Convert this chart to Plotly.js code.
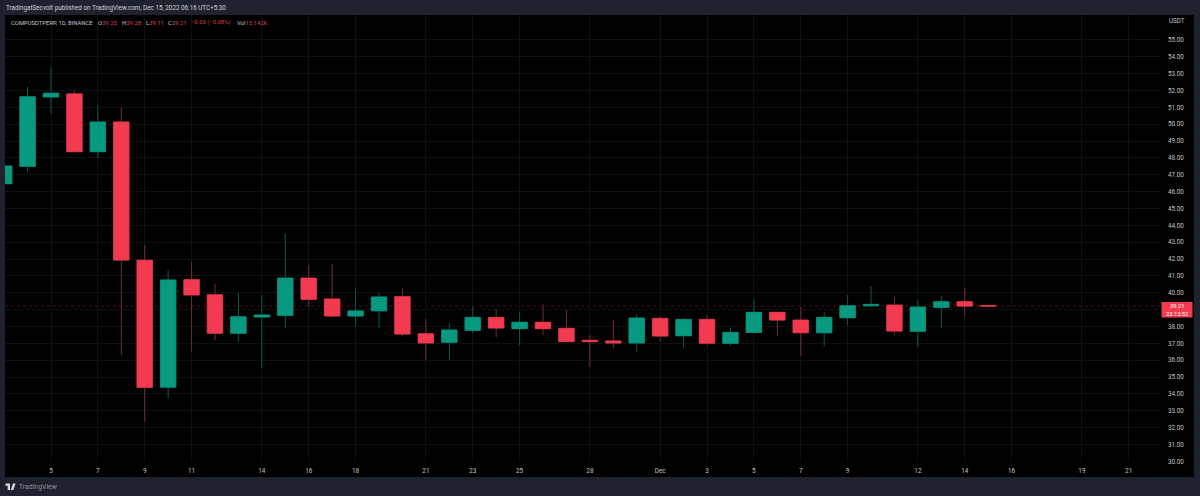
<!DOCTYPE html>
<html><head><meta charset="utf-8">
<script src="https://cdn.plot.ly/plotly-3.0.1.min.js"></script>
<style>html,body{margin:0;padding:0;background:#1e222d;overflow:hidden}#c{width:1200px;height:496px}</style>
</head><body><div id="c"></div>
<script>
const dates = ["2022-11-03","2022-11-04","2022-11-05","2022-11-06","2022-11-07","2022-11-08","2022-11-09","2022-11-10","2022-11-11","2022-11-12","2022-11-13","2022-11-14","2022-11-15","2022-11-16","2022-11-17","2022-11-18","2022-11-19","2022-11-20","2022-11-21","2022-11-22","2022-11-23","2022-11-24","2022-11-25","2022-11-26","2022-11-27","2022-11-28","2022-11-29","2022-11-30","2022-12-01","2022-12-02","2022-12-03","2022-12-04","2022-12-05","2022-12-06","2022-12-07","2022-12-08","2022-12-09","2022-12-10","2022-12-11","2022-12-12","2022-12-13","2022-12-14","2022-12-15"];
const opens = [46.47,47.50,51.62,51.80,48.37,50.13,41.93,34.40,40.78,39.88,37.60,38.56,38.66,40.87,39.63,38.62,38.93,39.77,37.57,37.06,37.77,38.54,37.87,38.25,37.89,37.18,37.14,37.02,38.48,37.45,38.42,37.00,37.65,38.84,38.38,37.63,38.52,39.23,39.27,37.71,39.13,39.47,39.25];
const closes = [47.52,51.63,51.84,48.37,50.13,41.94,34.39,40.76,39.87,37.60,38.58,38.68,40.87,39.61,38.62,38.92,39.75,37.55,37.02,37.79,38.54,37.91,38.25,37.87,37.10,37.10,37.02,38.50,37.43,38.42,37.00,37.65,38.84,38.38,37.63,38.54,39.23,39.31,37.73,39.15,39.47,39.21,39.21];
const highs = [47.60,52.23,53.38,51.99,51.14,51.00,42.83,41.35,41.84,40.52,40.00,39.87,43.49,41.65,41.71,40.26,40.00,40.26,38.44,38.19,39.17,39.02,38.88,39.33,38.98,37.49,38.38,38.74,38.62,38.50,38.68,37.93,39.61,38.84,39.17,38.84,39.87,40.40,39.73,39.57,39.81,40.26,39.28];
const lows = [46.40,47.18,50.65,48.37,47.98,36.30,32.35,33.75,36.50,37.20,37.10,35.52,37.89,39.17,38.54,37.99,37.89,37.43,36.00,36.00,37.60,37.36,36.90,37.49,37.06,35.61,36.70,36.50,37.10,36.70,36.90,36.86,37.65,37.45,36.25,36.84,38.09,39.17,37.49,36.80,37.89,38.62,39.11];
const xTicks = ["2022-11-05","2022-11-07","2022-11-09","2022-11-11","2022-11-14","2022-11-16","2022-11-18","2022-11-21","2022-11-23","2022-11-25","2022-11-28","2022-12-01","2022-12-03","2022-12-05","2022-12-07","2022-12-09","2022-12-12","2022-12-14","2022-12-16","2022-12-19","2022-12-21"];
const xLabels = ["5","7","9","11","14","16","18","21","23","25","28","Dec","3","5","7","9","12","14","16","19","21"];
const priceTicks = [30,31,32,33,34,35,36,37,38,39,40,41,42,43,44,45,46,47,48,49,50,51,52,53,54,55];
const lastPrice = 39.21;
const UP="#089981", DOWN="#f23a50", UPW="#0b5c50", DOWNW="#7a2a35", TXT="#c2c5cd", BG="#1e222d", FS=6.3, GRID="#0e1011";
const bodyHigh = opens.map((o,i)=>Math.max(o,closes[i]));
const bodyLow = opens.map((o,i)=>Math.min(o,closes[i]));
const L=5,R=1160,T=15,B=462;
const px=x=>(x-L)/(R-L), py=y=>(B-y)/(B-T);
const base={type:"candlestick",x:dates,open:opens,close:closes,whiskerwidth:0,hoverinfo:"skip",showlegend:false};
const wicks=Object.assign({},base,{high:highs,low:lows,
  increasing:{line:{color:UPW,width:1},fillcolor:UPW},decreasing:{line:{color:DOWNW,width:1},fillcolor:DOWNW}});
const bodies=Object.assign({},base,{high:bodyHigh,low:bodyLow,
  increasing:{line:{color:UP,width:0.6},fillcolor:UP},decreasing:{line:{color:DOWN,width:0.6},fillcolor:DOWN}});
const logoPath=(pts)=>"M"+pts.map(p=>px(p[0])+","+py(p[1])).join("L")+"Z";
const shapes=[
 {type:"rect",xref:"paper",yref:"paper",x0:0,x1:px(1194),y0:py(477),y1:1,fillcolor:"#000",line:{width:0},layer:"below"},
 {type:"line",xref:"paper",yref:"y",x0:0,x1:1,y0:lastPrice,y1:lastPrice,line:{color:"rgba(242,58,80,0.3)",width:1,dash:"dot"},layer:"below"},
 {type:"rect",xref:"paper",yref:"paper",x0:px(1161.5),x1:px(1192.5),y0:py(317.5),y1:py(302),fillcolor:"#f23a50",line:{width:0}},
 {type:"path",xref:"paper",yref:"paper",path:logoPath([[5.5,483.5],[10,483.5],[10,490],[7.7,490],[7.7,485.8],[5.5,485.8]]),fillcolor:"#d8dae0",line:{width:0}},
 {type:"path",xref:"paper",yref:"paper",path:logoPath([[13,483.5],[15.6,483.5],[13.4,490],[10.8,490]]),fillcolor:"#d8dae0",line:{width:0}},
];
const red="#d9434f";
const v=s=>`<span style="color:${red}">${s}</span>`;
const F=(size,color)=>({family:"Roboto, sans-serif",size,color});
const ann=(x,y,text,o)=>Object.assign({xref:"paper",yref:"paper",x:px(x),y:py(y),text,showarrow:false,xanchor:"left",yanchor:"middle",borderpad:0,font:F(FS,TXT)},o||{});
const annotations=[
 ann(5,8,"TradingatSecvolt published on TradingView.com, Dec 15, 2022 06:16 UTC+5:30",{font:F(6.3,"#d1d4dc")}),
 ann(10,22.5,"COMPUSDTPERP, 1D, BINANCE",{font:F(5.9,TXT)}),
 ann(97,22.5,"O"+v("39.25"),{font:F(5.9,TXT)}),
 ann(121,22.5,"H"+v("39.28"),{font:F(5.9,TXT)}),
 ann(145,22.5,"L"+v("39.11"),{font:F(5.9,TXT)}),
 ann(167,22.5,"C"+v("39.21"),{font:F(5.9,TXT)}),
 ann(190,22.5,v("−0.03 (−0.08%)"),{font:F(5.9,TXT)}),
 ann(236,22.5,"Vol"+v("15.142K"),{font:F(5.9,TXT)}),
 ann(1168,21,"USDT"),
 ann(18,487,"TradingView",{font:F(6.9,"#8d909a")}),
 ann(1177,310,"39.21<br>23:13:52",{xanchor:"center",align:"center",font:F(5.8,"#fff")}),
];
const layout={
 width:1200,height:496,margin:{l:L,r:1200-R,t:T,b:496-B,pad:0},
 paper_bgcolor:BG,plot_bgcolor:"#000",showlegend:false,boxgap:0.06,dragmode:false,
 font:F(FS,TXT),
 xaxis:{type:"date",range:["2022-11-03 00:53","2022-12-22 08:00"],tickmode:"array",tickvals:xTicks,ticktext:xLabels,
   showgrid:true,gridcolor:GRID,gridwidth:1,zeroline:false,showline:false,ticks:"",ticklen:0,
   rangeslider:{visible:false},tickfont:F(FS,TXT),ticklabelstandoff:4,fixedrange:true},
 yaxis:{side:"right",range:[29.96,56.48],tickmode:"array",tickvals:priceTicks,ticktext:priceTicks.map(p=>p.toFixed(2)),
   showgrid:true,gridcolor:GRID,gridwidth:1,zeroline:false,showline:false,ticks:"",ticklen:0,
   tickfont:F(FS,TXT),ticklabelstandoff:7,fixedrange:true},
 shapes,annotations
};
Plotly.newPlot("c",[wicks,bodies],layout,{displayModeBar:false,staticPlot:true});
</script></body></html>
